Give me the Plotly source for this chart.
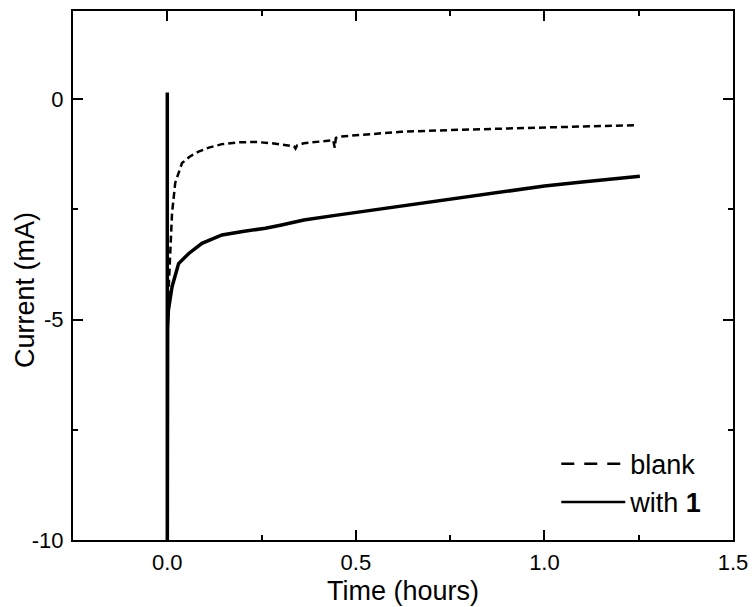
import plotly.graph_objects as go

# blank (dashed)
blank_t = [0.0, 0.003, 0.008, 0.0125, 0.021, 0.039, 0.06, 0.083, 0.11, 0.145, 0.19, 0.234,
           0.278, 0.309, 0.336, 0.340, 0.344, 0.362, 0.40, 0.44, 0.444, 0.447, 0.455, 0.50,
           0.54, 0.62, 0.753, 0.90, 1.0, 1.1, 1.245]
blank_i = [-5.0, -4.4, -3.6, -2.6, -1.9, -1.45, -1.3, -1.19, -1.1, -1.02, -0.98, -0.97,
           -1.0, -1.04, -1.07, -1.12, -1.05, -1.0, -0.96, -0.93, -1.1, -0.88, -0.85, -0.82,
           -0.79, -0.74, -0.70, -0.66, -0.64, -0.62, -0.59]

# with 1 (solid)
with1_t = [0.0, 0.0, 0.001, 0.003, 0.0125, 0.03, 0.057, 0.092, 0.145, 0.2, 0.26, 0.3,
           0.362, 0.45, 0.54, 0.63, 0.72, 0.81, 0.9, 1.0, 1.1, 1.18, 1.253]
with1_i = [0.15, -10.5, -5.2, -4.78, -4.26, -3.73, -3.5, -3.27, -3.08, -3.0, -2.93, -2.86,
           -2.74, -2.63, -2.52, -2.41, -2.30, -2.19, -2.08, -1.97, -1.88, -1.81, -1.75]

series_names = ["blank", "with <b>1</b>"]

x_ticks = [0.0, 0.5, 1.0, 1.5]
x_ticklabels = ["0.0", "0.5", "1.0", "1.5"]
y_ticks = [-10, -5, 0]
y_ticklabels = ["-10", "-5", "0"]

FONT = "Liberation Sans, Arial, sans-serif"

fig = go.Figure()
fig.add_trace(go.Scatter(x=blank_t, y=blank_i, mode="lines", name=series_names[0],
                         showlegend=False,
                         line=dict(color="black", width=2.5, dash="7px,4px")))
fig.add_trace(go.Scatter(x=with1_t, y=with1_i, mode="lines", name=series_names[1],
                         showlegend=False,
                         line=dict(color="black", width=3.5)))
# legend entries (Origin-style longer dash in legend)
fig.add_trace(go.Scatter(x=[None], y=[None], mode="lines", name=series_names[0],
                         line=dict(color="black", width=2.5, dash="13px,10px")))
fig.add_trace(go.Scatter(x=[None], y=[None], mode="lines", name=series_names[1],
                         line=dict(color="black", width=2.5)))

axis_common = dict(
    showline=True, linecolor="black", linewidth=2, mirror="allticks",
    ticks="inside", ticklen=10, tickwidth=1.5, tickcolor="black",
    showgrid=False, zeroline=False, automargin=False,
    tickfont=dict(family=FONT, size=22, color="black"),
    minor=dict(ticks="inside", ticklen=5, tickwidth=1.5, tickcolor="black", showgrid=False),
)

fig.update_xaxes(range=[-0.25, 1.5], tickvals=x_ticks, ticktext=x_ticklabels,
                 minor_dtick=0.25, minor_tick0=0.25,
                 title=dict(text="Time (hours)", font=dict(family=FONT, size=27, color="black"),
                            standoff=7),
                 ticklabelstandoff=2, **axis_common)
fig.update_yaxes(range=[-10, 2], tickvals=y_ticks, ticktext=y_ticklabels,
                 minor_dtick=2.5, minor_tick0=0,
                 ticklabelstandoff=3, **axis_common)

fig.add_annotation(text="Current (mA)", xref="paper", yref="paper",
                   x=-0.0727, y=0.4726, xanchor="center", yanchor="middle",
                   textangle=-90, showarrow=False,
                   font=dict(family=FONT, size=27, color="black"))

fig.update_layout(
    width=752, height=607,
    margin=dict(l=73, r=19, t=11, b=67),
    plot_bgcolor="white", paper_bgcolor="white",
    font=dict(family=FONT, color="black"),
    showlegend=True,
    legend=dict(x=0.961, y=0.025, xanchor="right", yanchor="bottom",
                bgcolor="rgba(0,0,0,0)", font=dict(family=FONT, size=27, color="black"),
                itemwidth=64, tracegroupgap=0),
)

fig.write_html("out.html")
